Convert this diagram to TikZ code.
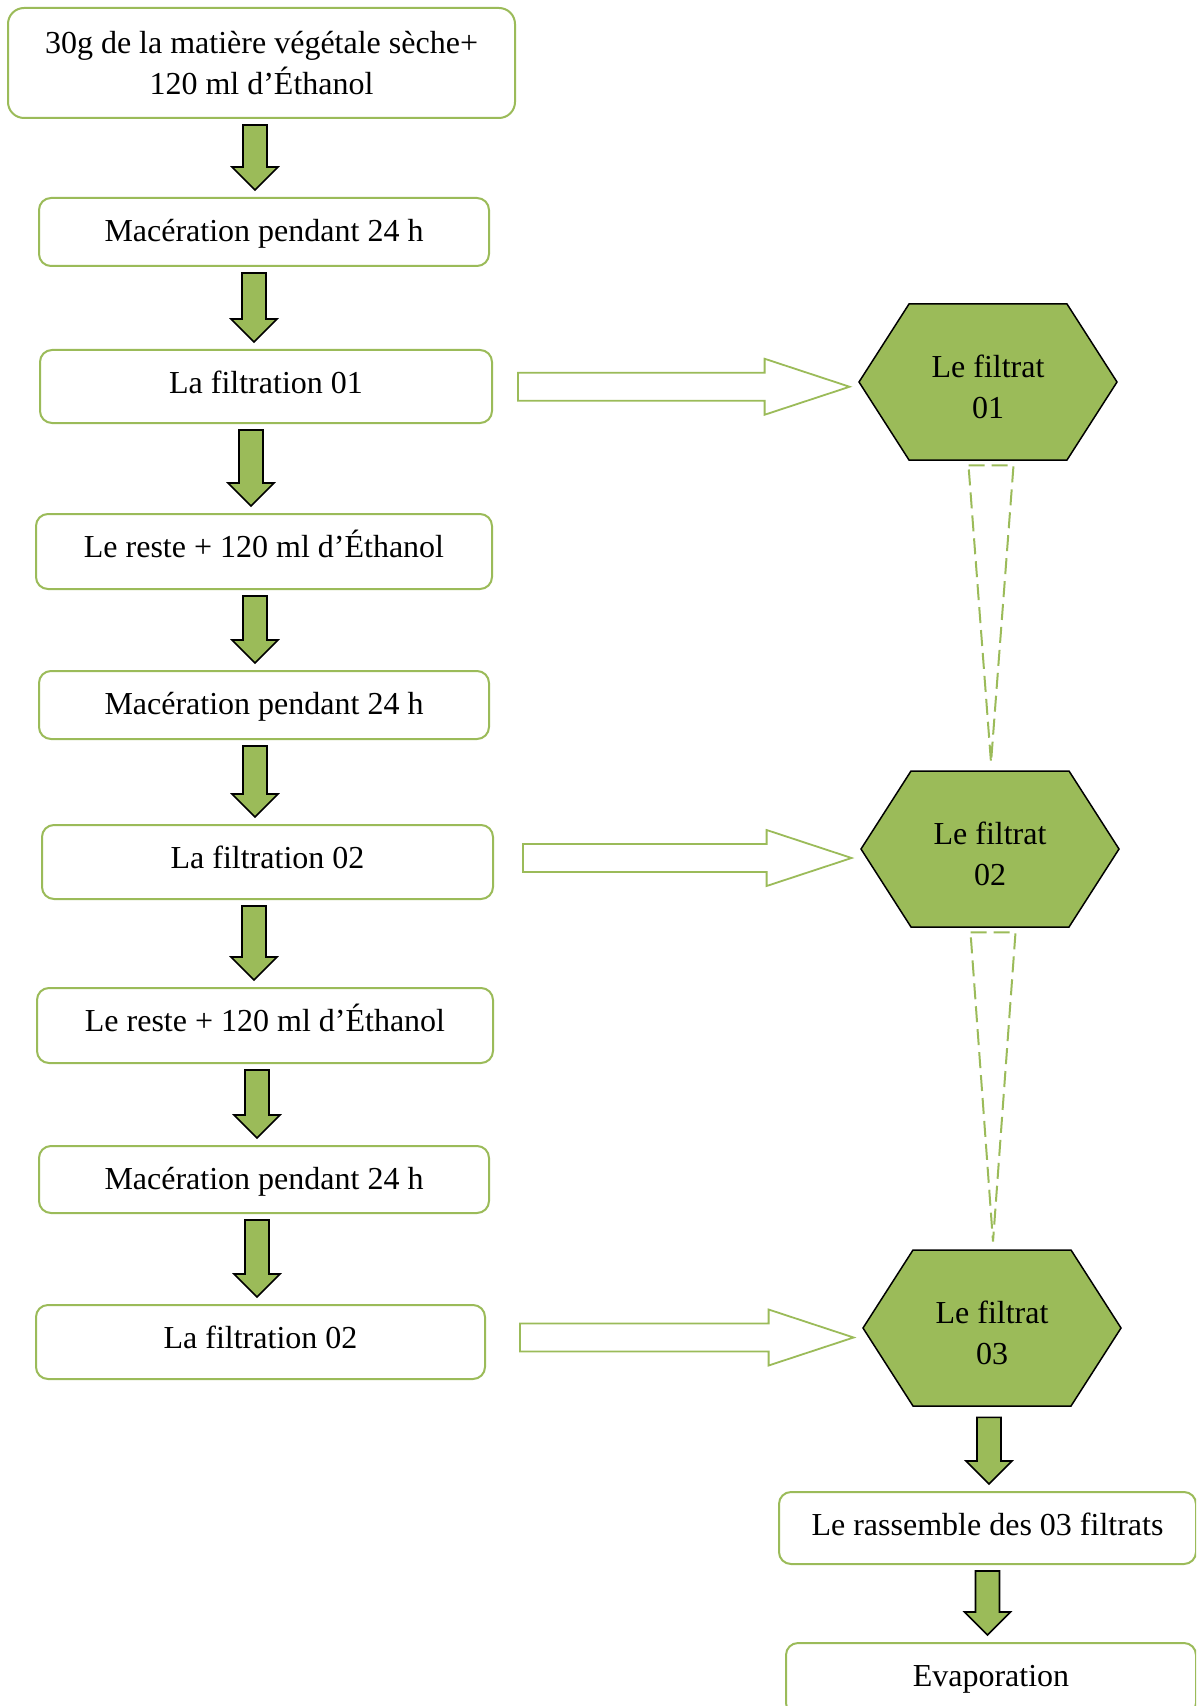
\documentclass[tikz,border=0pt]{standalone}
\usepackage{fontspec}
\setmainfont{Liberation Serif}
\usetikzlibrary{calc}

\definecolor{vertfeuille}{HTML}{9BBB59}

% green block arrow going down from #2 to #3 (#1 = sideways shift)
\newcommand{\flechebas}[3][-5pt]{%
  \draw[vert] let \p1=($(#2.south)+(#1,-3pt)$), \p2=(#3.north) in
    (\x1-6pt,\y1) -- (\x1+6pt,\y1) -- (\x1+6pt,\y2+15pt) -- (\x1+11.5pt,\y2+15pt)
    -- (\x1,\y2+3.5pt) -- (\x1-11.5pt,\y2+15pt) -- (\x1-6pt,\y2+15pt) -- cycle;}

% open arrow from a box to its filtrate (#1 = gap after the box)
\newcommand{\flecheblanche}[3][12.5pt]{%
  \draw[blanche] let \p1=(#2.east), \p2=(#3.west), \p3=($(#2.east)!.5!(#3.west)$) in
    (\x1+#1,\y3-7pt) -- (\x2-47pt,\y3-7pt) -- (\x2-47pt,\y3-14pt) -- (\x2-4.5pt,\y3)
    -- (\x2-47pt,\y3+14pt) -- (\x2-47pt,\y3+7pt) -- (\x1+#1,\y3+7pt) -- cycle;}

% dashed funnel between two filtrates
\newcommand{\entonnoir}[2]{%
  \draw[tirets] ($(#1.south)+(-9.75pt,0pt)$) -- ($(#1.south)+(12.75pt,0pt)$)
    -- ($(#2.north)+(0.5pt,6.5pt)$) -- cycle;}

% hexagon with its text (text sits a little low)
\newcommand{\filtrat}[3]{%
  \filldraw[hexagone] ($#2+(-129,0)$) -- ($#2+(-79,-78)$) -- ($#2+(79,-78)$)
    -- ($#2+(129,0)$) -- ($#2+(79,78)$) -- ($#2+(-79,78)$) -- cycle;
  \node[hexa] (#1) at ($#2+(0,5)$) {#3};}

\begin{document}
\begin{tikzpicture}[x=0.5pt,y=-0.5pt,
  every node/.style={font=\fontsize{16}{20.5}\selectfont},
  boite/.style={draw=vertfeuille, line width=1pt, rounded corners=6pt, align=center, inner sep=0pt, fill=white},
  ligne/.style={boite, text height=21.8pt, text depth=#1},
  hexa/.style={minimum width=129pt, minimum height=78pt, inner sep=0pt, align=center},
  hexagone/.style={fill=vertfeuille, draw=black, line width=0.75pt},
  vert/.style={fill=vertfeuille, draw=black, line width=0.8pt},
  blanche/.style={fill=white, draw=vertfeuille, line width=0.9pt},
  tirets/.style={draw=vertfeuille, line width=1pt, dash pattern=on 8pt off 3.5pt}]
  \clip (0,0) rectangle (1196,1706);

  % left column
  \node[boite, minimum width=253.5pt, minimum height=55pt, rounded corners=8pt] (mat) at (261.5,63) {30g de la matière végétale sèche+\\120 ml d’Éthanol};
  \node[ligne=12.2pt, minimum width=225pt] (mac1) at (264,232) {Macération pendant 24 h};
  \node[ligne=14.7pt, minimum width=226pt] (filt1) at (266,386.5) {La filtration 01};
  \node[ligne=15.7pt, minimum width=228pt] (reste1) at (264,551.5) {Le reste + 120 ml d’Éthanol};
  \node[ligne=12.2pt, minimum width=225pt] (mac2) at (264,705) {Macération pendant 24 h};
  \node[ligne=15.2pt, minimum width=225.5pt] (filt2) at (267.5,862) {La filtration 02};
  \node[ligne=15.7pt, minimum width=228pt] (reste2) at (265,1025.5) {Le reste + 120 ml d’Éthanol};
  \node[ligne=11.7pt, minimum width=225pt] (mac3) at (264,1179.5) {Macération pendant 24 h};
  \node[ligne=15.2pt, minimum width=224.5pt] (filt3) at (260.5,1342) {La filtration 02};

  % right column
  \filtrat{f1}{(988,382)}{Le filtrat\\01}
  \filtrat{f2}{(990,849)}{Le filtrat\\02}
  \filtrat{f3}{(992,1328)}{Le filtrat\\03}
  \node[ligne=14.2pt, minimum width=208.5pt] (rass) at (987.5,1528) {Le rassemble des 03 filtrats};
  \node[ligne=14.2pt, minimum width=205pt] (evap) at (991,1679) {Evaporation};

  \flechebas[-3.25pt]{mat}{mac1}
  \flechebas[-5pt]{mac1}{filt1}
  \flechebas[-7.5pt]{filt1}{reste1}
  \flechebas[-4.5pt]{reste1}{mac2}
  \flechebas[-4.5pt]{mac2}{filt2}
  \flechebas[-6.75pt]{filt2}{reste2}
  \flechebas[-4pt]{reste2}{mac3}
  \flechebas[-3.5pt]{mac3}{filt3}
  \flechebas[-1.5pt]{f3}{rass}
  \flechebas[0pt]{rass}{evap}

  \flecheblanche{filt1}{f1}
  \flecheblanche[14.5pt]{filt2}{f2}
  \flecheblanche[17pt]{filt3}{f3}

  \entonnoir{f1}{f2}
  \entonnoir{f2}{f3}
\end{tikzpicture}
\end{document}
